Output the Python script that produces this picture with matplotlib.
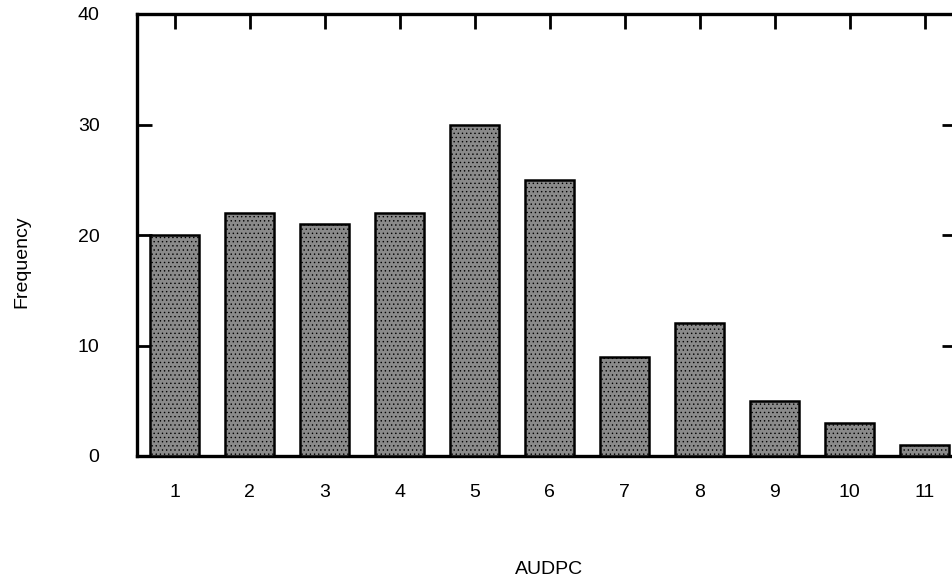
import matplotlib
matplotlib.use('Agg')
import matplotlib.pyplot as plt

# AUDPC classes and their frequencies
classes = [1, 2, 3, 4, 5, 6, 7, 8, 9, 10, 11]
freq = [20, 22, 21, 22, 30, 25, 9, 12, 5, 3, 1]
yticks = [0, 10, 20, 30, 40]

plt.rcParams['font.family'] = ['Liberation Sans', 'DejaVu Sans']
plt.rcParams['hatch.color'] = '#7c7c7c'
plt.rcParams['hatch.linewidth'] = 0.5

fig = plt.figure(figsize=(9.52, 5.84), dpi=100)
# right spine lies just past the image edge, as in the original
ax = fig.add_axes([137/952, 1 - 456/584, (957 - 137)/952, (456 - 14)/584])

ax.bar(classes, freq, width=0.66, color='#8a8a8a', edgecolor='black',
       linewidth=1.8, hatch='....', zorder=3)

ax.set_xlim(0.5, 11.43)
ax.set_ylim(0, 40)
ax.set_xticks(classes)
ax.set_yticks(yticks)

for s in ax.spines.values():
    s.set_linewidth(2.4)

ax.tick_params(direction='in', length=11, width=2, top=True, right=True,
               bottom=False, labelsize=14)
ax.tick_params(axis='x', pad=20)
ax.tick_params(axis='y', pad=27)

fig.text(549/952, 1 - 570/584, 'AUDPC', ha='center', va='center', fontsize=14)
fig.text(22/952, 1 - 262/584, 'Frequency', ha='center', va='center',
         rotation=90, fontsize=14)

fig.savefig('out.png', dpi=100)
